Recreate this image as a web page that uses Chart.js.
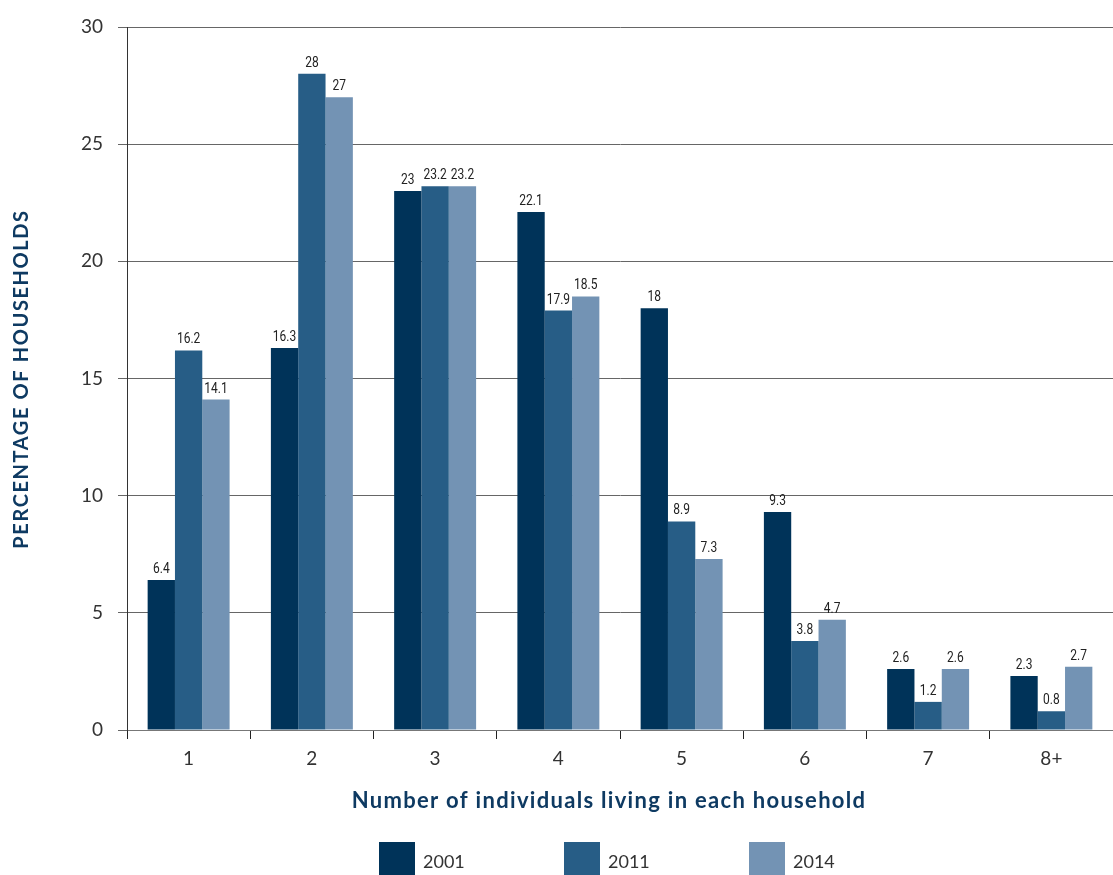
<!DOCTYPE html>
<html lang="en">
<head>
    <meta charset="UTF-8">
    <title>Household size</title>
    <script src="https://cdn.jsdelivr.net/npm/chart.js"></script>
    <style>
        html, body { margin: 0; padding: 0; background: #fff; }
        #chart-container { width: 1113px; height: 875px; }
    </style>
</head>
<body>
    <div id="chart-container">
        <canvas id="myChart" width="1113" height="875"></canvas>
    </div>

    <script>
        // Chart data
        var categories = ['1', '2', '3', '4', '5', '6', '7', '8+'];
        var years = ['2001', '2011', '2014'];
        var values2001 = [6.4, 16.3, 23, 22.1, 18, 9.3, 2.6, 2.3];
        var values2011 = [16.2, 28, 23.2, 17.9, 8.9, 3.8, 1.2, 0.8];
        var values2014 = [14.1, 27, 23.2, 18.5, 7.3, 4.7, 2.6, 2.7];
        var yTicks = [0, 5, 10, 15, 20, 25, 30];
        var colors = ['#003359', '#275d86', '#7393b4'];

        var xTitle = 'Number of individuals living in each household';
        var yTitle = 'PERCENTAGE OF HOUSEHOLDS';

        var tickFont = { family: 'Lato', size: 19 };

        // value labels above bars, axis titles, legend
        var extras = {
            id: 'extras',
            afterDatasetsDraw: function (chart) {
                var ctx = chart.ctx;
                ctx.fillStyle = '#222';
                ctx.font = '15px Roboto';
                ctx.textAlign = 'center';
                ctx.textBaseline = 'alphabetic';
                chart.data.datasets.forEach(function (ds, i) {
                    chart.getDatasetMeta(i).data.forEach(function (bar, j) {
                        // squeeze horizontally to look like a condensed face
                        ctx.save();
                        ctx.translate(bar.x, bar.y - 7);
                        ctx.scale(0.8, 1);
                        ctx.fillText(String(ds.data[j]), 0, 0);
                        ctx.restore();
                    });
                });
            },
            afterDraw: function (chart) {
                var ctx = chart.ctx;
                ctx.save();
                ctx.fillStyle = '#0e3a62';
                ctx.textAlign = 'center';
                ctx.textBaseline = 'middle';

                // x title
                ctx.font = 'bold 22px Lato';
                ctx.letterSpacing = '1.3px';
                ctx.fillText(xTitle, 609, 801);

                // y title
                ctx.font = 'bold 20px Lato';
                ctx.letterSpacing = '1.6px';
                ctx.translate(22, 379);
                ctx.rotate(-Math.PI / 2);
                ctx.fillText(yTitle, 0, 0);
                ctx.restore();

                // legend
                ctx.save();
                ctx.font = '18px Lato';
                ctx.textBaseline = 'middle';
                ctx.textAlign = 'left';
                chart.data.datasets.forEach(function (ds, i) {
                    var x = 379 + i * 185;
                    ctx.fillStyle = ds.backgroundColor;
                    ctx.fillRect(x, 842, 36, 33);
                    ctx.fillStyle = '#333';
                    ctx.fillText(ds.label, x + 44, 862);
                });
                ctx.restore();
            }
        };

        function createGraph() {
            var ctx = document.getElementById('myChart').getContext('2d');
            var series = [values2001, values2011, values2014];
            new Chart(ctx, {
                type: 'bar',
                data: {
                    labels: categories,
                    datasets: years.map(function (y, i) {
                        return {
                            label: y,
                            data: series[i],
                            backgroundColor: colors[i],
                            borderWidth: 0,
                            categoryPercentage: 0.665,
                            barPercentage: 1.0
                        };
                    })
                },
                options: {
                    responsive: false,
                    animation: false,
                    layout: { padding: { top: 27, right: 0, bottom: 0, left: 0 } },
                    plugins: {
                        legend: { display: false },
                        tooltip: { enabled: false }
                    },
                    scales: {
                        x: {
                            grid: { display: true, drawOnChartArea: false, offset: true, tickLength: 9, color: '#222' },
                            border: { color: '#777' },
                            ticks: { font: tickFont, color: '#333', padding: 8 },
                            afterFit: function (s) { s.height = 145; }
                        },
                        y: {
                            min: 0,
                            max: 30,
                            afterBuildTicks: function (s) {
                                s.ticks = yTicks.map(function (v) { return { value: v }; });
                            },
                            grid: { color: '#666', tickLength: 9 },
                            border: { color: '#333' },
                            ticks: { font: tickFont, color: '#333', padding: 15 },
                            afterFit: function (s) { s.width = 127; }
                        }
                    }
                },
                plugins: [extras]
            });
        }

        createGraph();
    </script>
</body>
</html>
